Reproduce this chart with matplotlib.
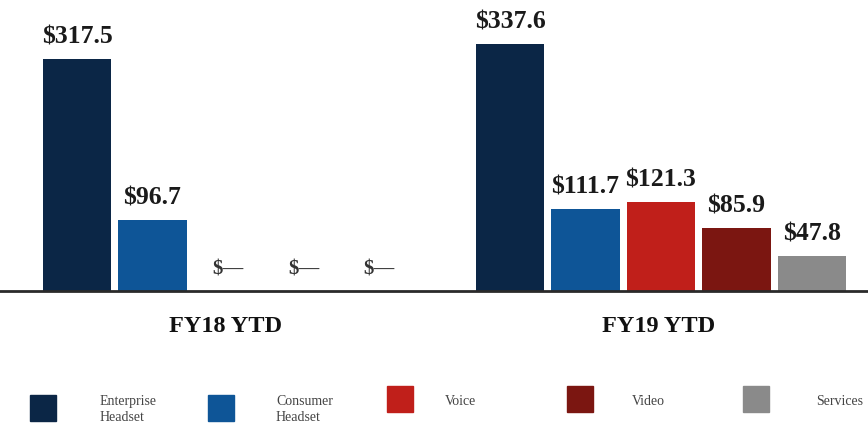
import matplotlib.pyplot as plt
from matplotlib.patches import Rectangle

# revenue by product line, $ millions
periods = ["FY18 YTD", "FY19 YTD"]
products = ["Enterprise\nHeadset", "Consumer\nHeadset", "Voice", "Video", "Services"]
fy18 = [317.5, 96.7, 0, 0, 0]
fy19 = [337.6, 111.7, 121.3, 85.9, 47.8]
colors = ["#0b2646", "#0e5597", "#c01f1a", "#7b1611", "#8a8a8a"]

plt.rcParams["font.family"] = ["Liberation Serif", "DejaVu Serif"]

fig = plt.figure(figsize=(8.68, 4.29), dpi=100)
ax = fig.add_axes([0, (429 - 291) / 429, 1, 291 / 429])

px_per_unit = 0.732
step = 75.5
group_gap = 433 / step
offsets = [i - 2 for i in range(len(products))]
label_off = 22 / px_per_unit

for g, vals in enumerate([fy18, fy19]):
    for i, v in enumerate(vals):
        x = g * group_gap + offsets[i]
        ax.bar(x, v, width=0.91, color=colors[i])
        if v > 0:
            ax.text(x, v + label_off, f"${v:.1f}", ha="center", va="center",
                    fontsize=18.5, fontweight="bold", color="#1a1a1a")
        else:
            ax.text(x, label_off, "$\u2014", ha="center", va="center",
                    fontsize=15, fontweight="bold", color="#333333")

ax.set_xlim(-228 / step, (868 - 228) / step)
ax.set_ylim(0, 291 / px_per_unit)
ax.axis("off")
ax.axhline(0, color="#2a2a2a", lw=2, clip_on=False, zorder=3)

for g, p in enumerate(periods):
    fig.text((226 + g * 433) / 868, 1 - 327 / 429, p, ha="center", va="center",
             fontsize=17.5, fontweight="bold", color="#111111")

# legend drawn by hand
patch_x = [30, 208, 387, 567, 743]
patch_y = [395, 395, 386, 386, 386]
text_x = [100, 276, 445, 632, 816]
for i, name in enumerate(products):
    fig.patches.append(Rectangle((patch_x[i] / 868, 1 - (patch_y[i] + 26) / 429),
                                 26 / 868, 26 / 429, transform=fig.transFigure,
                                 color=colors[i]))
    fig.text(text_x[i] / 868, 1 - 395 / 429, name, ha="left", va="top",
             fontsize=10, color="#444444", linespacing=1.3)

fig.savefig("out.png", dpi=100)
